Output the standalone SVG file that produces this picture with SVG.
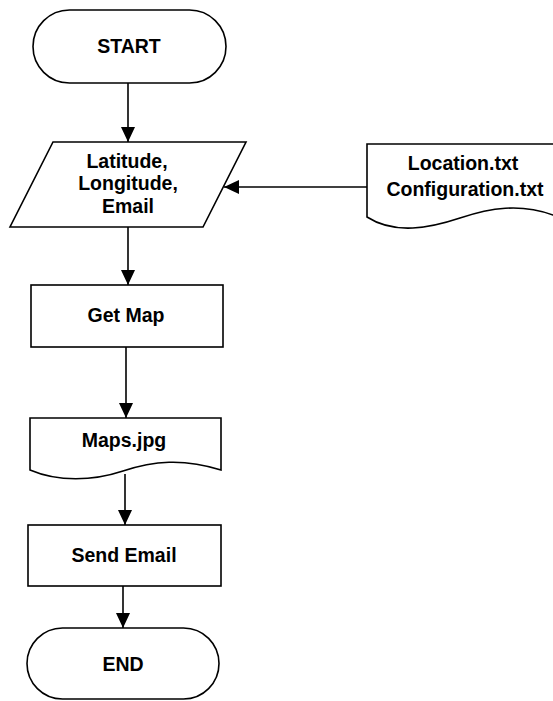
<svg xmlns="http://www.w3.org/2000/svg" width="553" height="701" viewBox="0 0 553 701">
<style>
.s{fill:#fff;stroke:#000;stroke-width:1.6}
.c{fill:none;stroke:#000;stroke-width:1.6}
text{font-family:"Liberation Sans",Arial,sans-serif;font-weight:bold;font-size:19.5px;fill:#000;text-anchor:middle}
</style>
<defs>
<marker id="ah" markerUnits="userSpaceOnUse" markerWidth="16" markerHeight="16" viewBox="0 0 16 14" refX="15" refY="7" orient="auto">
<path d="M0,0 L15,7 L0,14 Z" fill="#000"/>
</marker>
</defs>
<rect width="553" height="701" fill="#fff"/>
<g id="connectors">
<line class="c" x1="128" y1="83" x2="128" y2="142" marker-end="url(#ah)"/>
<line class="c" x1="367" y1="187" x2="224" y2="187" marker-end="url(#ah)"/>
<line class="c" x1="128" y1="227" x2="128" y2="285" marker-end="url(#ah)"/>
<line class="c" x1="126" y1="347" x2="126" y2="418" marker-end="url(#ah)"/>
<line class="c" x1="125" y1="474" x2="125" y2="525" marker-end="url(#ah)"/>
<line class="c" x1="123" y1="586" x2="123" y2="628" marker-end="url(#ah)"/>
</g>
<g id="start">
<rect class="s" x="33" y="10" width="193" height="73" rx="36.5" ry="36.5"/>
<text x="129" y="53">START</text>
</g>
<g id="input">
<path class="s" d="M53,142 L246,142 L203,227 L10,227 Z"/>
<text x="127" y="168">Latitude,</text>
<text x="128" y="190">Longitude,</text>
<text x="128" y="213">Email</text>
</g>
<g id="files">
<path class="s" d="M367,144 L562,144 L562,218 L553,215 C520,203 490,208 460,218 C430,228 395,235 367,217 Z"/>
<text x="463" y="170">Location.txt</text>
<text x="465" y="196">Configuration.txt</text>
</g>
<g id="getmap">
<rect class="s" x="31" y="285" width="192" height="62"/>
<text x="126" y="322">Get Map</text>
</g>
<g id="maps">
<path class="s" d="M30,418 L221,418 L221,470 C183,458 153,461 123,471 C93,481 58,482 30,470 Z"/>
<text x="124" y="447">Maps.jpg</text>
</g>
<g id="sendemail">
<rect class="s" x="28" y="525" width="193" height="61"/>
<text x="124" y="562">Send Email</text>
</g>
<g id="end">
<rect class="s" x="27" y="628" width="192" height="71" rx="35.5" ry="35.5"/>
<text x="123" y="671">END</text>
</g>
</svg>
